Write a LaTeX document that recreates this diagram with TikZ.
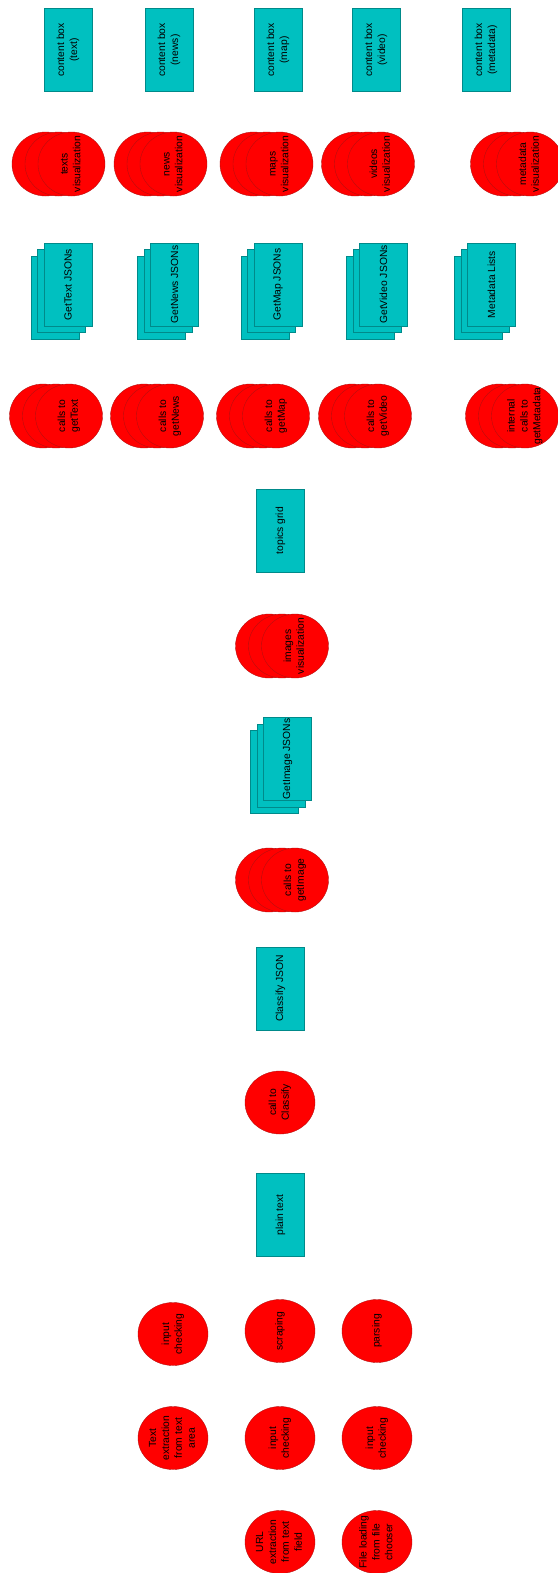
\documentclass[tikz,border=0pt]{standalone}
\usepackage{fontspec}
\newfontfamily\labelfont{Liberation Sans}
\usetikzlibrary{shapes.geometric}
\definecolor{procred}{HTML}{FF0000}
\definecolor{procline}{HTML}{B01010}
\definecolor{datacyan}{HTML}{00C0C0}
\definecolor{dataline}{HTML}{008A8A}

% text of zero size, so that the ellipse keeps its own size
\newcommand{\zlabel}[1]{\makebox[0pt]{\raisebox{-.25em}[0pt][0pt]{\begin{tabular}{@{}c@{}}#1\end{tabular}}}}

\tikzset{
  procbox/.style={ellipse, draw=procline, fill=procred, line width=0.3pt, inner sep=0pt,
                  rotate=90, font=\labelfont\fontsize{8.8}{11}\selectfont},
  stackproc/.style={procbox, minimum width=19.2mm, minimum height=20.1mm},
  singleproc/.style={procbox, minimum width=18.9mm, minimum height=21mm},
  databox/.style={rectangle, draw=dataline, fill=datacyan, line width=0.3pt, inner sep=1pt,
                  rotate=90, align=center, minimum width=24.9mm, minimum height=14.4mm,
                  font=\labelfont\fontsize{8.8}{11}\selectfont}
}

% three ellipses, one behind the other
\newcommand{\procstack}[4]{%
  \node[stackproc] (#1-2) at ({#2-26},#3) {};
  \node[stackproc] (#1-1) at ({#2-13},#3) {};
  \node[stackproc] (#1) at (#2,#3) {\zlabel{#4}};}
% three sheets, one behind the other
\newcommand{\datastack}[4]{%
  \node[databox] (#1-2) at ({#2-13},{#3+13}) {};
  \node[databox] (#1-1) at ({#2-6.5},{#3+6.5}) {};
  \node[databox] (#1) at (#2,#3) {#4};}

\begin{document}
\begin{tikzpicture}[x=0.3mm, y=-0.3mm]
  \useasboundingbox (0,0) rectangle (557,1573);

  % content boxes
  \node[databox] (boxtext) at (68,50) {content box\\(text)};
  \node[databox] (boxnews) at (169,50) {content box\\(news)};
  \node[databox] (boxmap) at (278,50) {content box\\(map)};
  \node[databox] (boxvideo) at (376,50) {content box\\(video)};
  \node[databox] (boxmeta) at (486,50) {content box\\(metadata)};

  % visualizations
  \procstack{vistext}{71.5}{164}{texts\\visualization}
  \procstack{visnews}{173.5}{164}{news\\visualization}
  \procstack{vismap}{279.5}{164}{maps\\visualization}
  \procstack{visvideo}{381}{164}{videos\\visualization}
  \procstack{vismeta}{530}{164}{metadata\\visualization}

  % JSONs
  \datastack{jsontext}{68}{284.5}{GetText JSONs}
  \datastack{jsonnews}{174.5}{284.5}{GetNews JSONs}
  \datastack{jsonmap}{278}{284.5}{GetMap JSONs}
  \datastack{jsonvideo}{383.5}{284.5}{GetVideo JSONs}
  \datastack{jsonmeta}{491.5}{284.5}{Metadata Lists}

  % calls
  \procstack{calltext}{69}{416}{calls to\\getText}
  \procstack{callnews}{170}{416}{calls to\\getNews}
  \procstack{callmap}{276}{416}{calls to\\getMap}
  \procstack{callvideo}{378}{416}{calls to\\getVideo}
  \procstack{callmeta}{525}{416}{internal\\calls to\\getMetadata}

  % middle column
  \node[databox] (topics) at (280.5,530.5) {topics grid};
  \procstack{visimage}{295}{646}{images\\visualization}
  \datastack{jsonimage}{287.5}{759}{GetImage JSONs}
  \procstack{callimage}{295}{880}{calls to\\getImage}
  \node[databox] (classjson) at (280.5,988.5) {Classify JSON};
  \node[singleproc] (callclass) at (280,1102.5) {\zlabel{call to\\Classify}};
  \node[databox] (plain) at (280.5,1215) {plain text};

  % input handling
  \node[singleproc] (checktext) at (173,1334) {\zlabel{input\\checking}};
  \node[singleproc] (scrape) at (280,1331) {\zlabel{scraping}};
  \node[singleproc] (parse) at (377,1331) {\zlabel{parsing}};
  \node[singleproc] (extracttext) at (173,1438) {\zlabel{Text\\extraction\\from text\\area}};
  \node[singleproc] (checkurl) at (280,1438) {\zlabel{input\\checking}};
  \node[singleproc] (checkfile) at (377,1438) {\zlabel{input\\checking}};
  \node[singleproc] (extracturl) at (280,1542) {\zlabel{URL\\extraction\\from text\\field}};
  \node[singleproc] (loadfile) at (377,1542) {\zlabel{File loading\\from file\\chooser}};
\end{tikzpicture}
\end{document}
